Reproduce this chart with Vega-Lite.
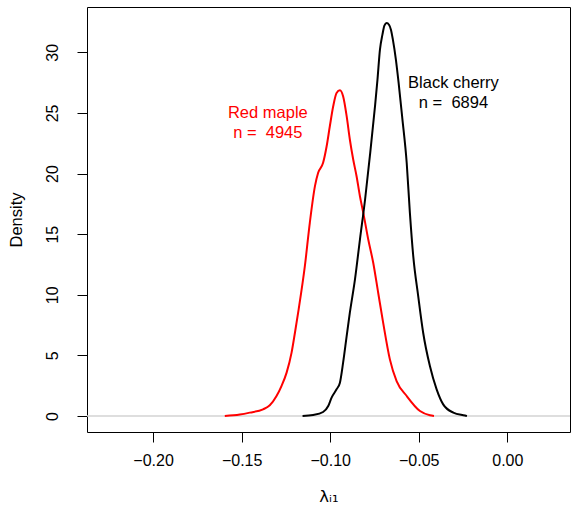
{
  "$schema": "https://vega.github.io/schema/vega-lite/v6.json",
  "width": 483,
  "height": 425,
  "autosize": {"type": "none"},
  "padding": {"left": 87, "top": 7, "right": 1, "bottom": 78},
  "background": "white",
  "config": {
    "view": {"stroke": "black", "strokeWidth": 1},
    "font": "Liberation Sans",
    "axis": {
      "grid": false,
      "domain": false,
      "tickColor": "black",
      "tickSize": 10,
      "labelFont": "Liberation Sans",
      "labelFontSize": 16,
      "labelColor": "black",
      "titleFont": "Liberation Sans",
      "titleFontSize": 16.5,
      "titleFontWeight": "normal",
      "titleColor": "black"
    }
  },
  "datasets": {
    "curves": [
      {"species": "Red maple", "x": -0.1595, "y": 0},
      {"species": "Red maple", "x": -0.1510, "y": 0.12},
      {"species": "Red maple", "x": -0.1454, "y": 0.28},
      {"species": "Red maple", "x": -0.1379, "y": 0.55},
      {"species": "Red maple", "x": -0.1341, "y": 0.88},
      {"species": "Red maple", "x": -0.1303, "y": 1.65},
      {"species": "Red maple", "x": -0.1275, "y": 2.47},
      {"species": "Red maple", "x": -0.1246, "y": 3.58},
      {"species": "Red maple", "x": -0.1218, "y": 5.23},
      {"species": "Red maple", "x": -0.1199, "y": 6.87},
      {"species": "Red maple", "x": -0.1178, "y": 8.8},
      {"species": "Red maple", "x": -0.1143, "y": 12.36},
      {"species": "Red maple", "x": -0.1115, "y": 15.94},
      {"species": "Red maple", "x": -0.1086, "y": 18.96},
      {"species": "Red maple", "x": -0.1068, "y": 20.06},
      {"species": "Red maple", "x": -0.1040, "y": 20.89},
      {"species": "Red maple", "x": -0.1020, "y": 22.25},
      {"species": "Red maple", "x": -0.1002, "y": 23.90},
      {"species": "Red maple", "x": -0.0983, "y": 25.55},
      {"species": "Red maple", "x": -0.0964, "y": 26.65},
      {"species": "Red maple", "x": -0.0945, "y": 26.87},
      {"species": "Red maple", "x": -0.0927, "y": 26.37},
      {"species": "Red maple", "x": -0.0907, "y": 24.73},
      {"species": "Red maple", "x": -0.0889, "y": 22.81},
      {"species": "Red maple", "x": -0.0870, "y": 21.16},
      {"species": "Red maple", "x": -0.0851, "y": 19.78},
      {"species": "Red maple", "x": -0.0832, "y": 18.13},
      {"species": "Red maple", "x": -0.0813, "y": 16.76},
      {"species": "Red maple", "x": -0.0785, "y": 14.56},
      {"species": "Red maple", "x": -0.0757, "y": 12.64},
      {"species": "Red maple", "x": -0.0729, "y": 10.17},
      {"species": "Red maple", "x": -0.0701, "y": 7.70},
      {"species": "Red maple", "x": -0.0663, "y": 4.67},
      {"species": "Red maple", "x": -0.0625, "y": 2.88},
      {"species": "Red maple", "x": -0.0568, "y": 1.65},
      {"species": "Red maple", "x": -0.0493, "y": 0.41},
      {"species": "Red maple", "x": -0.0437, "y": 0.06},
      {"species": "Red maple", "x": -0.0414, "y": 0},
      {"species": "Black cherry", "x": -0.1156, "y": 0},
      {"species": "Black cherry", "x": -0.1096, "y": 0.08},
      {"species": "Black cherry", "x": -0.1040, "y": 0.33},
      {"species": "Black cherry", "x": -0.1011, "y": 0.82},
      {"species": "Black cherry", "x": -0.0992, "y": 1.52},
      {"species": "Black cherry", "x": -0.0964, "y": 2.20},
      {"species": "Black cherry", "x": -0.0945, "y": 2.75},
      {"species": "Black cherry", "x": -0.0927, "y": 4.40},
      {"species": "Black cherry", "x": -0.0907, "y": 6.59},
      {"species": "Black cherry", "x": -0.0889, "y": 8.52},
      {"species": "Black cherry", "x": -0.0860, "y": 11.27},
      {"species": "Black cherry", "x": -0.0832, "y": 14.56},
      {"species": "Black cherry", "x": -0.0803, "y": 17.86},
      {"species": "Black cherry", "x": -0.0776, "y": 21.43},
      {"species": "Black cherry", "x": -0.0746, "y": 25.69},
      {"species": "Black cherry", "x": -0.0733, "y": 27.75},
      {"species": "Black cherry", "x": -0.0719, "y": 30.22},
      {"species": "Black cherry", "x": -0.0705, "y": 31.46},
      {"species": "Black cherry", "x": -0.0694, "y": 32.2},
      {"species": "Black cherry", "x": -0.0681, "y": 32.42},
      {"species": "Black cherry", "x": -0.0668, "y": 32.28},
      {"species": "Black cherry", "x": -0.0657, "y": 31.87},
      {"species": "Black cherry", "x": -0.0646, "y": 31.05},
      {"species": "Black cherry", "x": -0.0629, "y": 29.40},
      {"species": "Black cherry", "x": -0.0613, "y": 27.40},
      {"species": "Black cherry", "x": -0.0593, "y": 24.60},
      {"species": "Black cherry", "x": -0.0568, "y": 20.89},
      {"species": "Black cherry", "x": -0.0550, "y": 16.76},
      {"species": "Black cherry", "x": -0.0531, "y": 13.19},
      {"species": "Black cherry", "x": -0.0503, "y": 9.89},
      {"species": "Black cherry", "x": -0.0475, "y": 6.87},
      {"species": "Black cherry", "x": -0.0437, "y": 4.12},
      {"species": "Black cherry", "x": -0.0399, "y": 2.20},
      {"species": "Black cherry", "x": -0.0362, "y": 0.96},
      {"species": "Black cherry", "x": -0.0305, "y": 0.28},
      {"species": "Black cherry", "x": -0.0239, "y": 0.04},
      {"species": "Black cherry", "x": -0.0228, "y": 0}
    ],
    "labels": [
      {"species": "Red maple", "x": -0.1352, "y": 25.03, "label": "Red maple"},
      {"species": "Red maple", "x": -0.1352, "y": 23.38, "label": "n = \u00a04945"},
      {"species": "Black cherry", "x": -0.0304, "y": 27.5, "label": "Black cherry"},
      {"species": "Black cherry", "x": -0.0304, "y": 25.85, "label": "n = \u00a06894"}
    ]
  },
  "layer": [
    {
      "data": {"values": [{"h": 0}]},
      "mark": {"type": "rule", "color": "#D3D3D3", "strokeWidth": 1.5},
      "encoding": {
        "y": {"field": "h", "type": "quantitative", "scale": {"domain": [-1.32, 33.74], "nice": false, "zero": false}}
      }
    },
    {
      "data": {"name": "curves"},
      "mark": {"type": "line", "strokeWidth": 2, "clip": true, "interpolate": "monotone"},
      "encoding": {
        "x": {
          "field": "x", "type": "quantitative",
          "scale": {"domain": [-0.2373, 0.0354], "nice": false, "zero": false},
          "axis": {"values": [-0.2, -0.15, -0.1, -0.05, 0], "format": ".2f", "title": "λᵢ₁", "titleFont": "DejaVu Sans", "labelPadding": 10, "titlePadding": 20}
        },
        "y": {
          "field": "y", "type": "quantitative",
          "scale": {"domain": [-1.32, 33.74], "nice": false, "zero": false},
          "axis": {"values": [0, 5, 10, 15, 20, 25, 30], "title": "Density", "labelAngle": -90, "labelAlign": "center", "labelBaseline": "bottom", "labelPadding": 17, "titlePadding": 20}
        },
        "color": {"field": "species", "type": "nominal", "scale": {"domain": ["Red maple", "Black cherry"], "range": ["#FF0000", "#000000"]}, "legend": null},
        "detail": {"field": "species"}
      }
    },
    {
      "data": {"name": "labels"},
      "mark": {"type": "text", "fontSize": 16.5, "align": "center", "baseline": "middle", "font": "Liberation Sans"},
      "encoding": {
        "x": {"field": "x", "type": "quantitative"},
        "y": {"field": "y", "type": "quantitative"},
        "text": {"field": "label"},
        "color": {"field": "species", "type": "nominal", "legend": null}
      }
    }
  ]
}
